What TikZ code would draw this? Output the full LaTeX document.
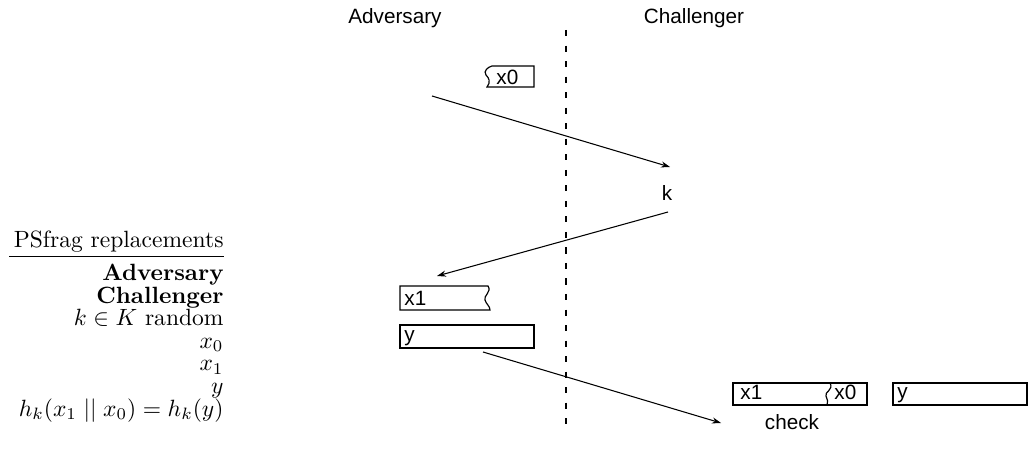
\documentclass[tikz,border=0pt]{standalone}
\usepackage{fontspec}
\newfontfamily\helv{Liberation Sans}
\usetikzlibrary{arrows.meta}
\begin{document}
\begin{tikzpicture}[x=0.425pt,y=-0.425pt,
  lbl/.style={font=\helv\fontsize{8.8}{10}\selectfont, inner sep=0pt},
  inbox/.style={lbl, anchor=base west},
  rep/.style={anchor=base east, inner sep=0pt},
  msg/.style={line width=0.45pt, -{Stealth[length=3.8pt,width=2.6pt]}},
  box/.style={line width=0.5pt},
  divider/.style={line width=0.85pt, dash pattern=on 2.6pt off 4pt}]
\useasboundingbox (0,0) rectangle (1029,466);

% column headings and separator
\node[lbl] (adv) at (395,18) {Adversary};
\node[lbl] (chl) at (694,18) {Challenger};
\coordinate (sepTop) at (566,30);
\coordinate (sepBot) at (566,430);
\draw[divider] (sepTop) -- (sepBot);

% adversary's first message x0
\draw[box] (487,87) .. controls (491,82) and (489,78) .. (486,75)
  .. controls (483,71) and (488,67) .. (492,66) -- (534,66) -- (534,87) -- cycle;
\node[inbox] (x0a) at (496,85) {x0};

% key
\node[lbl] (k) at (667,193) {k};

% x1 and y
\draw[box] (400,286) -- (488,286) .. controls (492,292) and (483,296) .. (485,300)
  .. controls (486,304) and (490,306) .. (490,310) -- (400,310) -- cycle;
\node[inbox] (x1a) at (404,305.5) {x1};
\draw[box] (400,325) rectangle (534,348);
\node[inbox] (ya) at (404,341.5) {y};

% challenger's check
\draw[box] (733,383) rectangle (867,405);
\draw[box] (830,383) .. controls (834,390) and (824,392) .. (826,396)
  .. controls (827,400) and (829,402) .. (827,405);
\node[inbox] (x1b) at (740,399) {x1};
\node[inbox] (x0b) at (834,399) {x0};
\draw[box] (893,383) rectangle (1027,405);
\node[inbox] (yb) at (897,398.5) {y};
\node[lbl] (chk) at (792,422) {check};

% messages
\coordinate (m1s) at (432,96);
\coordinate (m1e) at (670,167);
\coordinate (m2s) at (668,212);
\coordinate (m2e) at (437,276);
\coordinate (m3s) at (483,352);
\coordinate (m3e) at (721,423);
\draw[msg] (m1s) -- (m1e);
\draw[msg] (m2s) -- (m2e);
\draw[msg] (m3s) -- (m3e);

% replacement list
\node[rep] (r0) at (224,247.5) {PSfrag replacements};
\coordinate (ulL) at (9,256);
\coordinate (ulR) at (224,256);
\draw[line width=0.4pt] (ulL) -- (ulR);
\node[rep] (r1) at (224,280.5) {\textbf{Adversary}};
\node[rep] (r2) at (224,303) {\textbf{Challenger}};
\node[rep] (r3) at (224,325.7) {$k\in K$ random};
\node[rep] (r4) at (224,348.3) {$x_0$};
\node[rep] (r5) at (224,370.9) {$x_1$};
\node[rep] (r6) at (224,393.5) {$y$};
\node[rep] (r7) at (224,416) {$h_k(x_1\mathrel{||}x_0)=h_k(y)$};
\end{tikzpicture}
\end{document}
